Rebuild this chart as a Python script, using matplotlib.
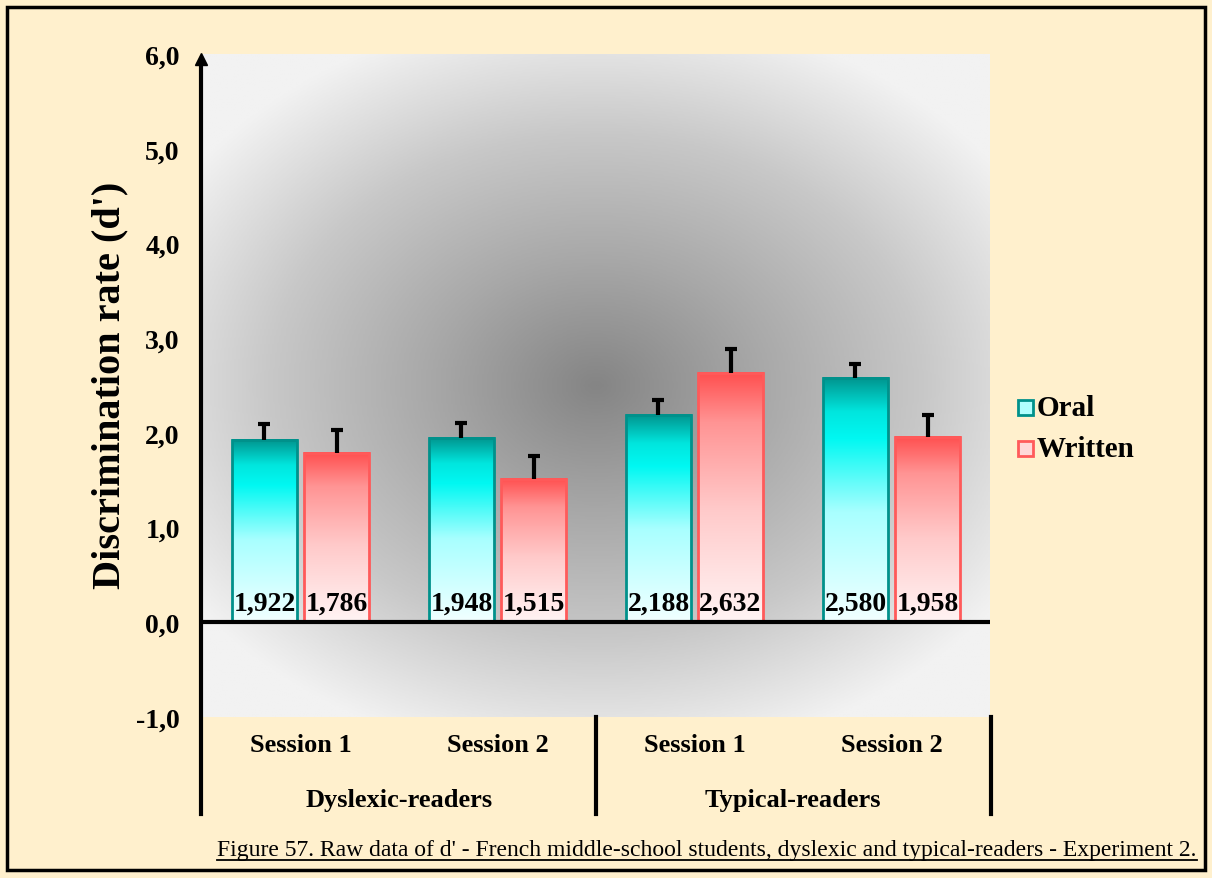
import numpy as np
import matplotlib
matplotlib.use("Agg")
import matplotlib.pyplot as plt
from matplotlib.colors import LinearSegmentedColormap
from matplotlib.patches import Rectangle
from matplotlib.lines import Line2D

groups = ["Dyslexic-readers", "Typical-readers"]
sessions = ["Session 1", "Session 2", "Session 1", "Session 2"]
oral = [1.922, 1.948, 2.188, 2.580]
written = [1.786, 1.515, 2.632, 1.958]
oral_err = [0.17, 0.16, 0.16, 0.15]
written_err = [0.24, 0.24, 0.25, 0.23]
yticks = [-1, 0, 1, 2, 3, 4, 5, 6]
caption = ("Figure 57. Raw data of d' - French middle-school students, "
           "dyslexic and typical-readers - Experiment 2.")

serif = ["Liberation Serif", "DejaVu Serif"]
cream = "#FFF0CD"

W, H = 1212, 879
fig = plt.figure(figsize=(W / 100, H / 100), dpi=100, facecolor=cream)

def fx(px):
    return px / W

def fy(py):
    return 1 - py / H

# outer frame
fig.patches.append(Rectangle((fx(7), fy(871)), fx(1198), (871 - 8) / H,
                             transform=fig.transFigure, fill=False,
                             edgecolor="black", lw=2.5))

ax = fig.add_axes([fx(202), fy(718), fx(990 - 202), (718 - 55) / H])
ax.set_xlim(0, 4)
ax.set_ylim(-1, 6)

# radial grey background
gx, gy = np.meshgrid(np.linspace(0, 4, 400), np.linspace(-1, 6, 400))
d = np.sqrt(((gx - 2.0) / 2.5) ** 2 + ((gy - 2.5) / 4.0) ** 2)
d = np.clip(d, 0, 1)
grey = LinearSegmentedColormap.from_list("g", ["#858585", "#a8a8a8", "#c8c8c8", "#f2f2f2"])
ax.imshow(d, extent=[0, 4, -1, 6], origin="lower", cmap=grey, aspect="auto",
          zorder=0, interpolation="bilinear")

oral_cmap = LinearSegmentedColormap.from_list(
    "o", [(0, "#f2ffff"), (0.45, "#a8ffff"), (0.75, "#00f8f2"), (0.86, "#00e6de"), (1, "#00948e")])
writ_cmap = LinearSegmentedColormap.from_list(
    "w", [(0, "#fff4f4"), (0.45, "#ffcaca"), (0.8, "#ff9494"), (1, "#ff4f4f")])

bw = 0.33
off = 0.183
grad = np.linspace(0, 1, 256).reshape(-1, 1)
for i in range(4):
    c = i + 0.5
    for val, err, cm, edge, xc in [(oral[i], oral_err[i], oral_cmap, "#00918b", c - off),
                                   (written[i], written_err[i], writ_cmap, "#ff5a5a", c + off)]:
        ax.imshow(grad, extent=[xc - bw / 2, xc + bw / 2, 0, val], origin="lower",
                  cmap=cm, aspect="auto", zorder=2)
        ax.bar(xc, val, bw, facecolor="none", edgecolor=edge, lw=2, zorder=3)
        ax.vlines(xc, val, val + err, color="black", lw=3, zorder=4)
        ax.plot([xc], [val + err], marker="_", markersize=9, mew=3, color="black", zorder=4)
        ax.text(xc, 0.07, f"{val:.3f}".replace(".", ","), ha="center", va="bottom",
                fontsize=20, fontweight="bold", family=serif, zorder=5)

ax.axhline(0, color="black", lw=3, zorder=4)
ax.set_xlim(0, 4)
ax.set_ylim(-1, 6)
for s in ax.spines.values():
    s.set_visible(False)
ax.set_xticks([])
ax.set_yticks(yticks)
ax.set_yticklabels([f"{t:.1f}".replace(".", ",") for t in yticks],
                   fontsize=20, fontweight="bold", family=serif)
ax.tick_params(axis="y", length=0, pad=16)
fig.text(fx(110), fy(385), "Discrimination rate (d')", rotation=90, ha="center",
         va="center", fontsize=29, fontweight="bold", family=serif)

# y axis with arrow
fig.add_artist(Line2D([fx(201), fx(201)], [fy(815), fy(62)], color="black", lw=3))
fig.add_artist(Line2D([fx(201)], [fy(60)], marker="^", markersize=9, color="black"))

# category separators
for px in [596, 991]:
    fig.add_artist(Line2D([fx(px), fx(px)], [fy(718), fy(815)], color="black", lw=3))

for i, s in enumerate(sessions):
    fig.text(fx(202 + 197 * (i + 0.5)), fy(746), s, ha="center", va="center",
             fontsize=19, fontweight="bold", family=serif)
for i, g in enumerate(groups):
    fig.text(fx(202 + 394 * (i + 0.5)), fy(801), g, ha="center", va="center",
             fontsize=19, fontweight="bold", family=serif)

# legend
for ly, lab, fc, ec in [(409, "Oral", "#b0ffff", "#00918b"),
                        (450, "Written", "#ffd8d8", "#ff5a5a")]:
    fig.patches.append(Rectangle((fx(1018), fy(ly + 7)), fx(15), 15 / H,
                                 transform=fig.transFigure, facecolor=fc,
                                 edgecolor=ec, lw=2))
    fig.text(fx(1037), fy(ly), lab, ha="left", va="center", fontsize=21,
             fontweight="bold", family=serif)

cap = fig.text(fx(707), fy(851), caption, ha="center", va="center",
               fontsize=17, family=serif)
fig.canvas.draw()
bb = cap.get_window_extent()
fig.add_artist(Line2D([bb.x0 / W, bb.x1 / W], [(bb.y0 + 1) / H, (bb.y0 + 1) / H],
                      color="black", lw=1.3))

fig.savefig("out.png", dpi=100, facecolor=cream)
